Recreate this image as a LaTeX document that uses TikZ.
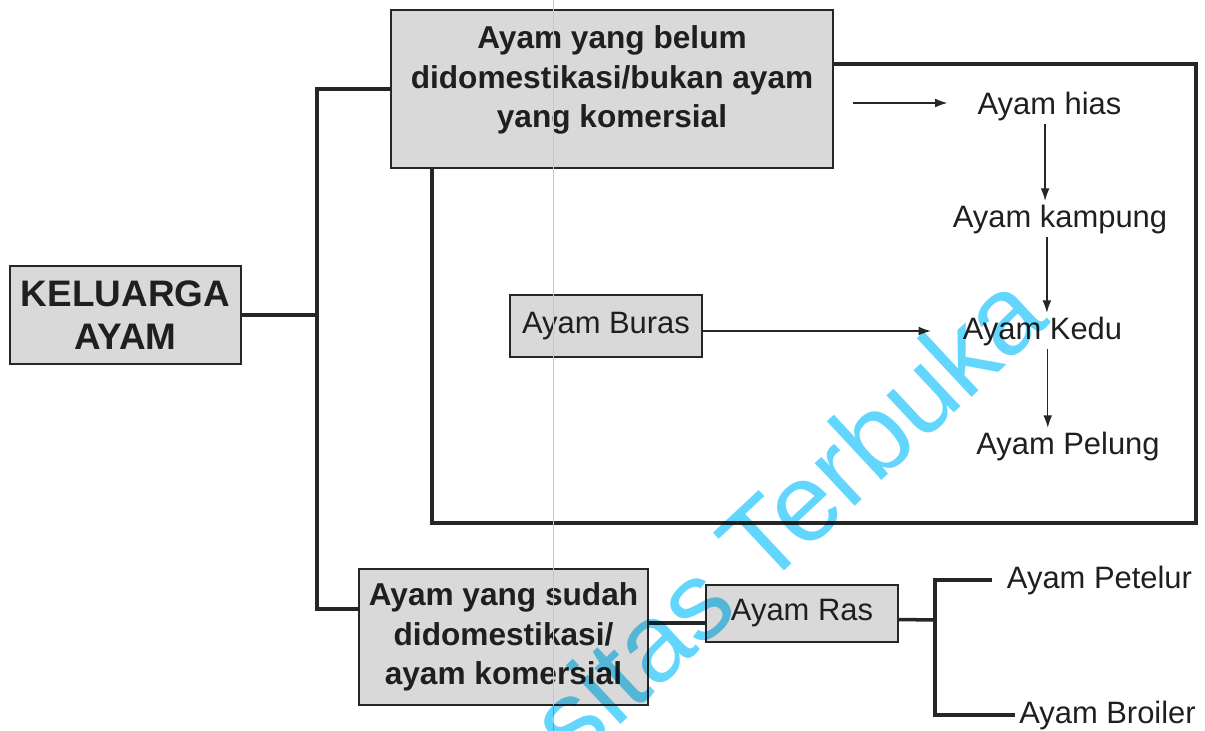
\documentclass[tikz,border=0pt]{standalone}
\usepackage{fontspec}
\setmainfont{Liberation Sans}
\usetikzlibrary{arrows.meta}

\definecolor{wmcyan}{RGB}{98,214,252}

\begin{document}
\begin{tikzpicture}[x=0.02cm, y=-0.02cm,
  box/.style={draw=black!85, line width=1.1pt, fill=black!15, text=black!88, align=center, inner sep=0pt},
  boldtxt/.style={font=\fontsize{18}{22.6}\selectfont\bfseries},
  lbl/.style={font=\fontsize{17.6}{21}\selectfont, text=black!88, inner sep=2pt},
  tline/.style={line width=2pt, black!85},
  arr/.style={-{Latex[length=7pt,width=5pt]}, line width=0.7pt, black!85}]
  \useasboundingbox (0,0) rectangle (1205,731);

  % Boxes
  \node[box, minimum width=4.62cm, minimum height=1.96cm, font=\fontsize{21}{24.5}\selectfont\bfseries] (keluarga) at (125.5,315) {KELUARGA\\AYAM};
  \node[box, boldtxt, minimum width=8.84cm, minimum height=3.16cm] (belum) at (612,89) {Ayam yang belum\\didomestikasi/bukan ayam\\yang komersial\rule[-14pt]{0pt}{14pt}};
  \node[box, boldtxt, minimum width=5.78cm, minimum height=2.72cm] (sudah) at (503.5,637) {Ayam yang sudah\\didomestikasi/\\ayam komersial};
  \node[box, font=\fontsize{17.6}{21}\selectfont, minimum width=3.84cm, minimum height=1.24cm] (buras) at (606,326) {Ayam Buras};
  \node[box, font=\fontsize{17.6}{21}\selectfont, minimum width=3.84cm, minimum height=1.14cm] (ras) at (802,613.5) {Ayam Ras};

  % Labels
  \node[lbl] (hias) at (1049.5,106) {Ayam hias};
  \node[lbl] (kampung) at (1060,219) {Ayam kampung};
  \node[lbl] (kedu) at (1042.5,331) {Ayam Kedu};
  \node[lbl] (pelung) at (1068,446) {Ayam Pelung};
  \node[lbl] (petelur) at (1099.5,580) {Ayam Petelur};
  \node[lbl] (broiler) at (1107.5,715) {Ayam Broiler};

  % Trunk
  \coordinate (trunk) at (317,315);
  \draw[tline] (keluarga.east) -- (trunk);
  \draw[tline] (belum.west) -| (trunk) |- ([yshift=0.56cm]sudah.west);

  % Enclosure
  \coordinate (encl-sw) at (432,523);
  \coordinate (encl-ne) at (1196,64);
  \draw[tline] (belum.south -| encl-sw) -- (encl-sw) -| (encl-ne) -- (belum.east |- encl-ne);

  % Arrows
  \draw[arr, shorten >=15pt] ([xshift=0.38cm,yshift=0.06cm]belum.east |- hias) -- ([yshift=0.06cm]hias.west);
  \draw[arr] ([xshift=-2.5pt]hias.south) -- ([xshift=-2.5pt]hias.south |- kampung.north);
  \draw[arr] ([xshift=2.5pt]kedu.north |- kampung.south) -- ([xshift=2.5pt]kedu.north);
  \draw[arr] ([xshift=3pt]kedu.south) -- ([xshift=3pt]kedu.south |- pelung.north);
  \draw[arr, shorten >=16pt] (buras.east |- kedu.west) -- (kedu.west);

  % Ras fork
  \coordinate (fork) at (935,620);
  \draw[tline] ([yshift=-0.19cm]ras.west -| sudah.east) -- ([yshift=-0.19cm]ras.west);
  \draw[tline] ([yshift=-0.12cm]ras.east) -- (fork);
  \draw[tline] ([xshift=-6.5pt]petelur.west) -| (fork) |- (broiler.west);

  % Scan fold
  \draw[black!22, line width=0.5pt] (553,0) -- (553,731);

  % Watermark
  \begin{scope}[blend mode=multiply]
    \node[text=wmcyan, font=\fontsize{63}{65}\selectfont, rotate=43, anchor=base east, inner sep=0pt] (tanda) at (1052,322) {sitas Terbuka};
  \end{scope}
\end{tikzpicture}
\end{document}
